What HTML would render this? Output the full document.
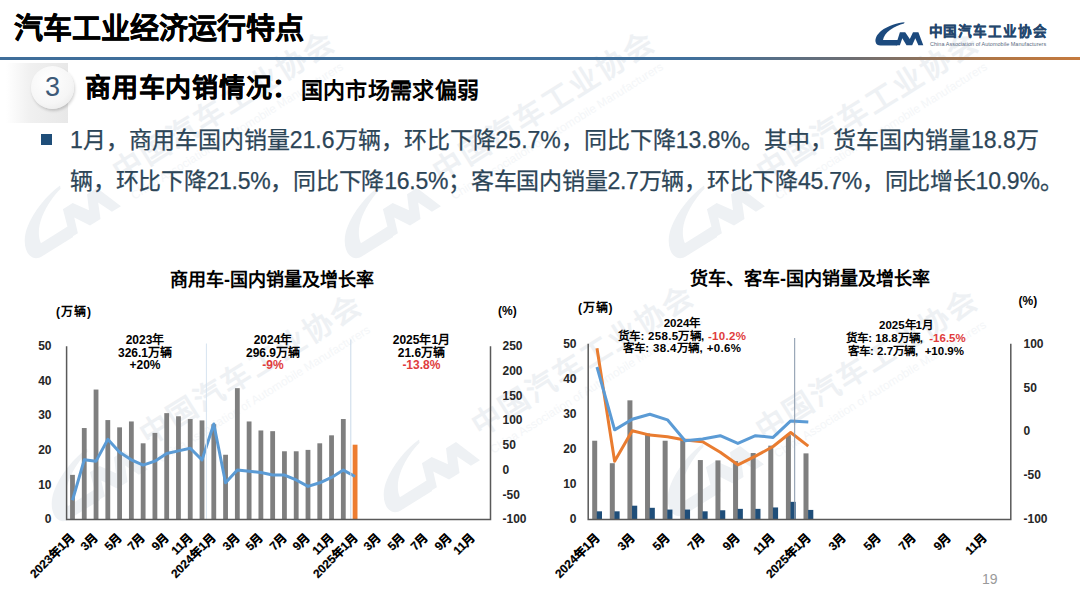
<!DOCTYPE html>
<html lang="zh-CN"><head><meta charset="utf-8">
<style>
*{margin:0;padding:0;box-sizing:border-box}
html,body{width:1080px;height:607px;overflow:hidden;background:#fff}
body{position:relative;font-family:"Liberation Sans", sans-serif;color:#000}
.t{position:absolute;white-space:nowrap}
.an{position:absolute;white-space:pre;text-align:center;font-weight:bold;color:#000}
.xl{position:absolute;white-space:nowrap;font-size:12px;font-weight:bold;line-height:13px;color:#000;-webkit-text-stroke:0.2px #000;transform-origin:100% 0;transform:rotate(-45deg)}
#title{position:absolute;left:13.5px;top:9.5px;font-size:29px;font-weight:bold;line-height:38px;color:#000;letter-spacing:0px;-webkit-text-stroke:0.4px #000}
#hline{position:absolute;left:0;top:56.5px;width:1080px;height:3px;background:linear-gradient(to right,#3f6e9a 0%,#40709c 64%,#6e6e72 79%,#b07645 92%,#c57a3e 100%)}
#shade{position:absolute;left:6px;top:63px;width:62px;height:60px;background:linear-gradient(to right,#ffffff 0%,#f0f0f0 40%,#e8e8e8 100%)}
#circ{position:absolute;left:31px;top:66px;width:43px;height:43px;border-radius:50%;background:radial-gradient(circle at 40% 35%,#ffffff 0%,#f6f6f6 60%,#e4e4e4 100%);box-shadow:1px 2px 3px rgba(0,0,0,0.18)}
#num{position:absolute;left:31px;top:66px;width:43px;height:43px;text-align:center;font-size:27px;line-height:43px;color:#3d5a78}
#h2a{position:absolute;left:85px;top:71px;font-size:26px;font-weight:bold;line-height:34px;letter-spacing:0.75px;-webkit-text-stroke:0.3px #000}
#h2b{position:absolute;left:300.5px;top:75.5px;font-size:22px;font-weight:bold;line-height:30px;letter-spacing:0.4px}
#bul{position:absolute;left:41px;top:134px;width:11px;height:11px;background:#1f4e79}
.body{position:absolute;left:70px;font-size:23px;line-height:32px;color:#2c4557;white-space:nowrap;-webkit-text-stroke:0.25px #2c4557}
</style></head><body>
<svg style="position:absolute;left:0;top:0" width="1080" height="607"><g fill="#eef1f4" font-family="Liberation Sans, sans-serif"><g transform="translate(63,213) rotate(-32) scale(2.17) translate(-899,-33.7)"><path d="M904.6 22.2 C898 22.6 888 25.5 881 31 C876.5 34.8 875 39 875.6 42 C876.2 44.6 878 45.5 880.5 45.5 L897.1 45.5 L899 40.1 L883 40.1 C883.5 36.5 886 33 890 30 C894.5 26.8 899.5 24.6 904 23.6 Z"/><path d="M895.8 45.2 L899.9 32.2 L905.2 32.2 L909.8 39 L913 32.2 L918.4 32.2 L923.3 45.2 L918.4 45.2 L915.3 38.2 L912.2 45.2 L906.5 45.2 L902.3 38.2 L899.9 45.2 Z"/><text x="929" y="36" font-size="13.6" font-weight="bold" letter-spacing="0.95">中国汽车工业协会</text><text x="930" y="46" font-size="5.45" fill="#f4f6f8">China Association of Automobile Manufacturers</text></g>
<g transform="translate(383,213) rotate(-32) scale(2.17) translate(-899,-33.7)"><path d="M904.6 22.2 C898 22.6 888 25.5 881 31 C876.5 34.8 875 39 875.6 42 C876.2 44.6 878 45.5 880.5 45.5 L897.1 45.5 L899 40.1 L883 40.1 C883.5 36.5 886 33 890 30 C894.5 26.8 899.5 24.6 904 23.6 Z"/><path d="M895.8 45.2 L899.9 32.2 L905.2 32.2 L909.8 39 L913 32.2 L918.4 32.2 L923.3 45.2 L918.4 45.2 L915.3 38.2 L912.2 45.2 L906.5 45.2 L902.3 38.2 L899.9 45.2 Z"/><text x="929" y="36" font-size="13.6" font-weight="bold" letter-spacing="0.95">中国汽车工业协会</text><text x="930" y="46" font-size="5.45" fill="#f4f6f8">China Association of Automobile Manufacturers</text></g>
<g transform="translate(707,213) rotate(-32) scale(2.17) translate(-899,-33.7)"><path d="M904.6 22.2 C898 22.6 888 25.5 881 31 C876.5 34.8 875 39 875.6 42 C876.2 44.6 878 45.5 880.5 45.5 L897.1 45.5 L899 40.1 L883 40.1 C883.5 36.5 886 33 890 30 C894.5 26.8 899.5 24.6 904 23.6 Z"/><path d="M895.8 45.2 L899.9 32.2 L905.2 32.2 L909.8 39 L913 32.2 L918.4 32.2 L923.3 45.2 L918.4 45.2 L915.3 38.2 L912.2 45.2 L906.5 45.2 L902.3 38.2 L899.9 45.2 Z"/><text x="929" y="36" font-size="13.6" font-weight="bold" letter-spacing="0.95">中国汽车工业协会</text><text x="930" y="46" font-size="5.45" fill="#f4f6f8">China Association of Automobile Manufacturers</text></g>
<g transform="translate(90,476) rotate(-32) scale(2.17) translate(-899,-33.7)"><path d="M904.6 22.2 C898 22.6 888 25.5 881 31 C876.5 34.8 875 39 875.6 42 C876.2 44.6 878 45.5 880.5 45.5 L897.1 45.5 L899 40.1 L883 40.1 C883.5 36.5 886 33 890 30 C894.5 26.8 899.5 24.6 904 23.6 Z"/><path d="M895.8 45.2 L899.9 32.2 L905.2 32.2 L909.8 39 L913 32.2 L918.4 32.2 L923.3 45.2 L918.4 45.2 L915.3 38.2 L912.2 45.2 L906.5 45.2 L902.3 38.2 L899.9 45.2 Z"/><text x="929" y="36" font-size="13.6" font-weight="bold" letter-spacing="0.95">中国汽车工业协会</text><text x="930" y="46" font-size="5.45" fill="#f4f6f8">China Association of Automobile Manufacturers</text></g>
<g transform="translate(422,467) rotate(-32) scale(2.17) translate(-899,-33.7)"><path d="M904.6 22.2 C898 22.6 888 25.5 881 31 C876.5 34.8 875 39 875.6 42 C876.2 44.6 878 45.5 880.5 45.5 L897.1 45.5 L899 40.1 L883 40.1 C883.5 36.5 886 33 890 30 C894.5 26.8 899.5 24.6 904 23.6 Z"/><path d="M895.8 45.2 L899.9 32.2 L905.2 32.2 L909.8 39 L913 32.2 L918.4 32.2 L923.3 45.2 L918.4 45.2 L915.3 38.2 L912.2 45.2 L906.5 45.2 L902.3 38.2 L899.9 45.2 Z"/><text x="929" y="36" font-size="13.6" font-weight="bold" letter-spacing="0.95">中国汽车工业协会</text><text x="930" y="46" font-size="5.45" fill="#f4f6f8">China Association of Automobile Manufacturers</text></g>
<g transform="translate(706,471) rotate(-32) scale(2.17) translate(-899,-33.7)"><path d="M904.6 22.2 C898 22.6 888 25.5 881 31 C876.5 34.8 875 39 875.6 42 C876.2 44.6 878 45.5 880.5 45.5 L897.1 45.5 L899 40.1 L883 40.1 C883.5 36.5 886 33 890 30 C894.5 26.8 899.5 24.6 904 23.6 Z"/><path d="M895.8 45.2 L899.9 32.2 L905.2 32.2 L909.8 39 L913 32.2 L918.4 32.2 L923.3 45.2 L918.4 45.2 L915.3 38.2 L912.2 45.2 L906.5 45.2 L902.3 38.2 L899.9 45.2 Z"/><text x="929" y="36" font-size="13.6" font-weight="bold" letter-spacing="0.95">中国汽车工业协会</text><text x="930" y="46" font-size="5.45" fill="#f4f6f8">China Association of Automobile Manufacturers</text></g></g></svg>
<div id="title">汽车工业经济运行特点</div>
<div id="hline"></div>
<div id="shade"></div>
<div id="circ"></div>
<div id="num">3</div>
<div id="h2a">商用车内销情况：</div>
<div id="h2b">国内市场需求偏弱</div>
<div id="bul"></div>
<div class="body" style="top:124px">1月，商用车国内销量21.6万辆，环比下降25.7%，同比下降13.8%。其中，货车国内销量18.8万</div>
<div class="body" style="top:165px;letter-spacing:-0.25px">辆，环比下降21.5%，同比下降16.5%；客车国内销量2.7万辆，环比下降45.7%，同比增长10.9%。</div>

<div class="t ct" style="left:170px;top:268px;font-size:18px;font-weight:bold;line-height:24px">商用车-国内销量及增长率</div>
<div class="t ct" style="left:690px;top:266.5px;font-size:18px;font-weight:bold;line-height:24px">货车、客车-国内销量及增长率</div>
<div class="t un" style="left:56px;top:304px;letter-spacing:1px;font-size:12px;font-weight:bold;line-height:16px">(万辆)</div>
<div class="t un" style="left:498px;top:302.5px;font-size:12px;font-weight:bold;line-height:16px">(%)</div>
<div class="t un" style="left:578px;top:299.5px;letter-spacing:0.8px;font-size:12px;font-weight:bold;line-height:16px">(万辆)</div>
<div class="t un" style="left:1018.5px;top:292.5px;font-size:12px;font-weight:bold;line-height:16px">(%)</div>

<div class="an" style="left:45px;top:330.5px;width:200px;font-size:12px;line-height:18px;letter-spacing:0px">2023年</div>
<div class="an" style="left:45px;top:343.6px;width:200px;font-size:12px;line-height:18px;letter-spacing:0px">326.1万辆</div>
<div class="an" style="left:45px;top:356.4px;width:200px;font-size:12px;line-height:18px;letter-spacing:0px">+20%</div>
<div class="an" style="left:173px;top:330.5px;width:200px;font-size:12px;line-height:18px;letter-spacing:0px">2024年</div>
<div class="an" style="left:173px;top:343.6px;width:200px;font-size:12px;line-height:18px;letter-spacing:0px">296.9万辆</div>
<div class="an" style="left:173px;top:356.4px;width:200px;font-size:12px;line-height:18px;letter-spacing:0px"><span style="color:#e03c3c">-9%</span></div>
<div class="an" style="left:321.4px;top:330.5px;width:200px;font-size:12px;line-height:18px;letter-spacing:0px">2025年1月</div>
<div class="an" style="left:321.4px;top:343.6px;width:200px;font-size:12px;line-height:18px;letter-spacing:0px">21.6万辆</div>
<div class="an" style="left:321.4px;top:356.4px;width:200px;font-size:12px;line-height:18px;letter-spacing:0px"><span style="color:#e03c3c">-13.8%</span></div>
<div class="an" style="left:582px;top:314.98px;width:200px;font-size:11.5px;line-height:17.25px;letter-spacing:0px">2024年</div>
<div class="an" style="left:582px;top:327.57px;width:200px;font-size:11.5px;line-height:17.25px;letter-spacing:0.3px">货车: 258.5万辆, <span style="color:#e03c3c">-10.2%</span></div>
<div class="an" style="left:582px;top:340.18px;width:200px;font-size:11.5px;line-height:17.25px;letter-spacing:0.35px">客车: 38.4万辆, +0.6%</div>
<div class="an" style="left:806px;top:316.98px;width:200px;font-size:11.5px;line-height:17.25px;letter-spacing:0px">2025年1月</div>
<div class="an" style="left:806px;top:330.18px;width:200px;font-size:11.5px;line-height:17.25px;letter-spacing:0px">货车: 18.8万辆,  <span style="color:#e03c3c">-16.5%</span></div>
<div class="an" style="left:806px;top:342.77px;width:200px;font-size:11.5px;line-height:17.25px;letter-spacing:0px">客车: 2.7万辆,  +10.9%</div>

<svg style="position:absolute;left:0;top:0" width="1080" height="607" viewBox="0 0 1080 607">
<g>
<rect x="70.09" y="474.86" width="4.8" height="44.74" fill="#7f7f7f"/>
<rect x="81.86" y="428.04" width="4.8" height="91.56" fill="#7f7f7f"/>
<rect x="93.64" y="389.55" width="4.8" height="130.05" fill="#7f7f7f"/>
<rect x="105.41" y="420.07" width="4.8" height="99.53" fill="#7f7f7f"/>
<rect x="117.19" y="427.35" width="4.8" height="92.25" fill="#7f7f7f"/>
<rect x="128.96" y="421.46" width="4.8" height="98.14" fill="#7f7f7f"/>
<rect x="140.74" y="443.3" width="4.8" height="76.3" fill="#7f7f7f"/>
<rect x="152.51" y="432.9" width="4.8" height="86.7" fill="#7f7f7f"/>
<rect x="164.29" y="413.13" width="4.8" height="106.47" fill="#7f7f7f"/>
<rect x="176.06" y="416.25" width="4.8" height="103.35" fill="#7f7f7f"/>
<rect x="187.84" y="419.03" width="4.8" height="100.57" fill="#7f7f7f"/>
<rect x="199.61" y="420.42" width="4.8" height="99.18" fill="#7f7f7f"/>
<rect x="211.39" y="424.23" width="4.8" height="95.37" fill="#7f7f7f"/>
<rect x="223.16" y="454.75" width="4.8" height="64.85" fill="#7f7f7f"/>
<rect x="234.94" y="388.16" width="4.8" height="131.44" fill="#7f7f7f"/>
<rect x="246.71" y="421.46" width="4.8" height="98.14" fill="#7f7f7f"/>
<rect x="258.49" y="430.47" width="4.8" height="89.13" fill="#7f7f7f"/>
<rect x="270.26" y="431.17" width="4.8" height="88.43" fill="#7f7f7f"/>
<rect x="282.04" y="451.28" width="4.8" height="68.32" fill="#7f7f7f"/>
<rect x="293.81" y="451.28" width="4.8" height="68.32" fill="#7f7f7f"/>
<rect x="305.59" y="449.89" width="4.8" height="69.71" fill="#7f7f7f"/>
<rect x="317.36" y="443.3" width="4.8" height="76.3" fill="#7f7f7f"/>
<rect x="329.14" y="435.33" width="4.8" height="84.27" fill="#7f7f7f"/>
<rect x="340.91" y="419.03" width="4.8" height="100.57" fill="#7f7f7f"/>
<rect x="352.69" y="444.69" width="4.8" height="74.91" fill="#ed7d31"/>
<polyline points="72.49,500.28 84.26,459.85 96.04,461.14 107.81,439.34 119.59,452.22 131.36,459.85 143.14,465.1 154.91,461.14 166.69,453.41 178.46,450.88 190.24,448.26 202.01,459.85 213.79,423.98 225.56,482.79 237.34,470.06 249.11,471.3 260.89,472.53 272.66,475.01 284.44,475.01 296.21,479.97 307.99,486.41 319.76,482.79 331.54,477.49 343.31,470.06 355.09,476.5" fill="none" stroke="#5b9bd5" stroke-width="3" stroke-linejoin="round"/>
<line x1="206.4" y1="343.5" x2="206.4" y2="519" stroke="#d6e4f0" stroke-width="1"/>
<line x1="350.8" y1="339.5" x2="350.8" y2="519" stroke="#c9d9e8" stroke-width="1"/>
<path d="M66.6 346.2 V519.6 H490.5 V346.2" fill="none" stroke="#595959" stroke-width="1.5"/>
</g>
<rect x="592.2" y="440.73" width="5" height="78.67" fill="#7f7f7f"/>
<rect x="609.81" y="463.21" width="5" height="56.19" fill="#7f7f7f"/>
<rect x="627.42" y="400.34" width="5" height="119.06" fill="#7f7f7f"/>
<rect x="645.03" y="433.36" width="5" height="86.04" fill="#7f7f7f"/>
<rect x="662.64" y="440.73" width="5" height="78.67" fill="#7f7f7f"/>
<rect x="680.25" y="438.98" width="5" height="80.42" fill="#7f7f7f"/>
<rect x="697.85" y="460.05" width="5" height="59.35" fill="#7f7f7f"/>
<rect x="715.46" y="460.4" width="5" height="59" fill="#7f7f7f"/>
<rect x="733.07" y="461.1" width="5" height="58.3" fill="#7f7f7f"/>
<rect x="750.68" y="453.02" width="5" height="66.38" fill="#7f7f7f"/>
<rect x="768.29" y="445.65" width="5" height="73.75" fill="#7f7f7f"/>
<rect x="785.9" y="435.11" width="5" height="84.29" fill="#7f7f7f"/>
<rect x="803.5" y="453.37" width="5" height="66.03" fill="#7f7f7f"/>
<rect x="596.8" y="511.32" width="5.2" height="8.08" fill="#1f4e79"/>
<rect x="614.41" y="511.32" width="5.2" height="8.08" fill="#1f4e79"/>
<rect x="632.02" y="505.7" width="5.2" height="13.7" fill="#1f4e79"/>
<rect x="649.63" y="507.81" width="5.2" height="11.59" fill="#1f4e79"/>
<rect x="667.24" y="509.57" width="5.2" height="9.83" fill="#1f4e79"/>
<rect x="684.85" y="509.57" width="5.2" height="9.83" fill="#1f4e79"/>
<rect x="702.45" y="511.32" width="5.2" height="8.08" fill="#1f4e79"/>
<rect x="720.06" y="510.27" width="5.2" height="9.13" fill="#1f4e79"/>
<rect x="737.67" y="508.86" width="5.2" height="10.54" fill="#1f4e79"/>
<rect x="755.28" y="508.86" width="5.2" height="10.54" fill="#1f4e79"/>
<rect x="772.89" y="507.46" width="5.2" height="11.94" fill="#1f4e79"/>
<rect x="790.5" y="501.84" width="5.2" height="17.56" fill="#1f4e79"/>
<rect x="808.1" y="509.92" width="5.2" height="9.48" fill="#1f4e79"/>
<polyline points="597,348.19 614.61,461.19 632.22,430.72 649.83,435.11 667.44,436.69 685.05,440.03 702.65,441.7 720.26,452.23 737.87,464.79 755.48,456.18 773.09,446.53 790.7,432.48 808.3,446.09" fill="none" stroke="#e97c30" stroke-width="3" stroke-linejoin="round"/>
<polyline points="597,366.98 614.61,429.84 632.22,419.31 649.83,414.22 667.44,419.83 685.05,440.73 702.65,439.06 720.26,435.73 737.87,443.37 755.48,435.73 773.09,437.39 790.7,420.89 808.3,422.03" fill="none" stroke="#5b9bd5" stroke-width="3" stroke-linejoin="round"/>
<line x1="794.7" y1="338" x2="794.7" y2="519" stroke="#8494a8" stroke-width="1"/>
<path d="M588.2 343.8 V519.4 H1010.8 V343.8" fill="none" stroke="#595959" stroke-width="1.5"/>
<g fill="#1c4a7e">
<path d="M904.6 22.2 C898 22.6 888 25.5 881 31 C876.5 34.8 875 39 875.6 42 C876.2 44.6 878 45.5 880.5 45.5 L897.1 45.5 L899 40.1 L883 40.1 C883.5 36.5 886 33 890 30 C894.5 26.8 899.5 24.6 904 23.6 Z"/>
<path d="M895.8 45.2 L899.9 32.2 L905.2 32.2 L909.8 39 L913 32.2 L918.4 32.2 L923.3 45.2 L918.4 45.2 L915.3 38.2 L912.2 45.2 L906.5 45.2 L902.3 38.2 L899.9 45.2 Z"/>
</g>
</svg>
<div class="t cn" style="left:928.5px;top:22px;font-size:13.6px;font-weight:bold;line-height:19px;color:#24476e;letter-spacing:0.95px;-webkit-text-stroke:0.3px #24476e">中国汽车工业协会</div>
<div class="t en" style="left:930px;top:40.5px;font-size:5.45px;line-height:7px;color:#5a6b80;letter-spacing:0.05px">China Association of Automobile Manufacturers</div>
<div class="t pg" style="left:982px;top:571px;font-size:14px;line-height:16px;color:#9a9a9a">19</div>
<div class="t tk" style="right:1028.5px;top:512.4px;font-size:12px;font-weight:bold;color:#262626;line-height:14.4px;">0</div>
<div class="t tk" style="right:1028.5px;top:477.72px;font-size:12px;font-weight:bold;color:#262626;line-height:14.4px;">10</div>
<div class="t tk" style="right:1028.5px;top:443.04px;font-size:12px;font-weight:bold;color:#262626;line-height:14.4px;">20</div>
<div class="t tk" style="right:1028.5px;top:408.36px;font-size:12px;font-weight:bold;color:#262626;line-height:14.4px;">30</div>
<div class="t tk" style="right:1028.5px;top:373.68px;font-size:12px;font-weight:bold;color:#262626;line-height:14.4px;">40</div>
<div class="t tk" style="right:1028.5px;top:339px;font-size:12px;font-weight:bold;color:#262626;line-height:14.4px;">50</div>
<div class="t tk" style="left:502.5px;top:512.4px;font-size:12px;font-weight:bold;color:#262626;line-height:14.4px;">-100</div>
<div class="t tk" style="left:502.5px;top:487.63px;font-size:12px;font-weight:bold;color:#262626;line-height:14.4px;">-50</div>
<div class="t tk" style="left:502.5px;top:462.86px;font-size:12px;font-weight:bold;color:#262626;line-height:14.4px;">0</div>
<div class="t tk" style="left:502.5px;top:438.09px;font-size:12px;font-weight:bold;color:#262626;line-height:14.4px;">50</div>
<div class="t tk" style="left:502.5px;top:413.31px;font-size:12px;font-weight:bold;color:#262626;line-height:14.4px;">100</div>
<div class="t tk" style="left:502.5px;top:388.54px;font-size:12px;font-weight:bold;color:#262626;line-height:14.4px;">150</div>
<div class="t tk" style="left:502.5px;top:363.77px;font-size:12px;font-weight:bold;color:#262626;line-height:14.4px;">200</div>
<div class="t tk" style="left:502.5px;top:339px;font-size:12px;font-weight:bold;color:#262626;line-height:14.4px;">250</div>
<div class="t tk" style="right:503.5px;top:512.2px;font-size:12px;font-weight:bold;color:#262626;line-height:14.4px;">0</div>
<div class="t tk" style="right:503.5px;top:477.08px;font-size:12px;font-weight:bold;color:#262626;line-height:14.4px;">10</div>
<div class="t tk" style="right:503.5px;top:441.96px;font-size:12px;font-weight:bold;color:#262626;line-height:14.4px;">20</div>
<div class="t tk" style="right:503.5px;top:406.84px;font-size:12px;font-weight:bold;color:#262626;line-height:14.4px;">30</div>
<div class="t tk" style="right:503.5px;top:371.72px;font-size:12px;font-weight:bold;color:#262626;line-height:14.4px;">40</div>
<div class="t tk" style="right:503.5px;top:336.6px;font-size:12px;font-weight:bold;color:#262626;line-height:14.4px;">50</div>
<div class="t tk" style="left:1023.5px;top:512.2px;font-size:12px;font-weight:bold;color:#262626;line-height:14.4px;">-100</div>
<div class="t tk" style="left:1023.5px;top:468.3px;font-size:12px;font-weight:bold;color:#262626;line-height:14.4px;">-50</div>
<div class="t tk" style="left:1023.5px;top:424.4px;font-size:12px;font-weight:bold;color:#262626;line-height:14.4px;">0</div>
<div class="t tk" style="left:1023.5px;top:380.5px;font-size:12px;font-weight:bold;color:#262626;line-height:14.4px;">50</div>
<div class="t tk" style="left:1023.5px;top:336.6px;font-size:12px;font-weight:bold;color:#262626;line-height:14.4px;">100</div>
<div class="xl" style="right:1011.51px;top:531px">2023年1月</div>
<div class="xl" style="right:987.96px;top:531px">3月</div>
<div class="xl" style="right:964.41px;top:531px">5月</div>
<div class="xl" style="right:940.86px;top:531px">7月</div>
<div class="xl" style="right:917.31px;top:531px">9月</div>
<div class="xl" style="right:893.76px;top:531px">11月</div>
<div class="xl" style="right:870.21px;top:531px">2024年1月</div>
<div class="xl" style="right:846.66px;top:531px">3月</div>
<div class="xl" style="right:823.11px;top:531px">5月</div>
<div class="xl" style="right:799.56px;top:531px">7月</div>
<div class="xl" style="right:776.01px;top:531px">9月</div>
<div class="xl" style="right:752.46px;top:531px">11月</div>
<div class="xl" style="right:728.91px;top:531px">2025年1月</div>
<div class="xl" style="right:705.36px;top:531px">3月</div>
<div class="xl" style="right:681.81px;top:531px">5月</div>
<div class="xl" style="right:658.26px;top:531px">7月</div>
<div class="xl" style="right:634.71px;top:531px">9月</div>
<div class="xl" style="right:611.16px;top:531px">11月</div>
<div class="xl" style="right:487px;top:531px">2024年1月</div>
<div class="xl" style="right:451.78px;top:531px">3月</div>
<div class="xl" style="right:416.56px;top:531px">5月</div>
<div class="xl" style="right:381.35px;top:531px">7月</div>
<div class="xl" style="right:346.13px;top:531px">9月</div>
<div class="xl" style="right:310.91px;top:531px">11月</div>
<div class="xl" style="right:275.7px;top:531px">2025年1月</div>
<div class="xl" style="right:240.48px;top:531px">3月</div>
<div class="xl" style="right:205.26px;top:531px">5月</div>
<div class="xl" style="right:170.05px;top:531px">7月</div>
<div class="xl" style="right:134.83px;top:531px">9月</div>
<div class="xl" style="right:99.61px;top:531px">11月</div>
</body></html>
